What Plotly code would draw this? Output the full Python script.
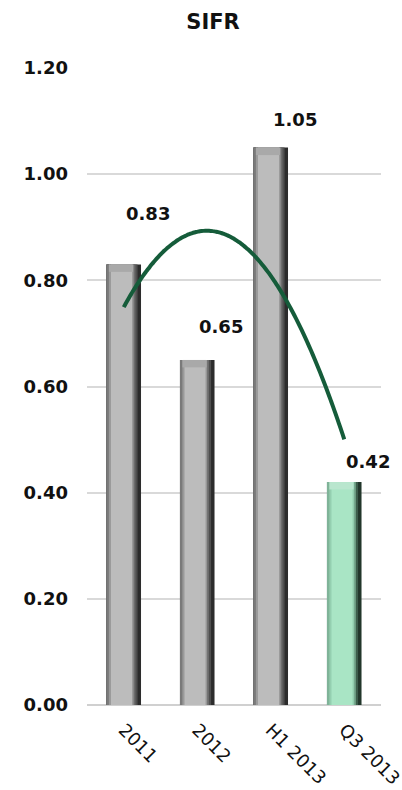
import numpy as np
import plotly.graph_objects as go

# SIFR by period
categories = ["2011", "2012", "H1 2013", "Q3 2013"]
sifr = [0.83, 0.65, 1.05, 0.42]
y_ticks = [0.0, 0.2, 0.4, 0.6, 0.8, 1.0, 1.2]
y_tick_labels = ["0.00", "0.20", "0.40", "0.60", "0.80", "1.00", "1.20"]

# styling
BAR_W = 0.47
label_dx = 24
label_dy = [51, 33, 28, 21]
gray_strips = [  # (start, end, colour) across the bar width, painted in order
    (0.00, 1.00, "#2c2c2c"),
    (0.00, 0.90, "#4f4f4f"),
    (0.00, 0.84, "#6c6c6c"),
    (0.00, 0.80, "#7a7a7a"),
    (0.07, 0.78, "#9a9a9a"),
    (0.13, 0.74, "#bcbcbc"),
]
green_strips = [
    (0.00, 1.00, "#22362b"),
    (0.00, 0.90, "#3d5e4c"),
    (0.00, 0.84, "#6a9a80"),
    (0.00, 0.80, "#7fb398"),
    (0.07, 0.78, "#94cfb0"),
    (0.13, 0.74, "#a9e5c5"),
]
highlight = [False, False, False, True]

x = np.arange(len(categories))
fig = go.Figure()

for (s, e, gc), (_, _, grc) in zip(gray_strips, green_strips):
    fig.add_trace(go.Bar(
        x=x, y=sifr,
        width=(e - s) * BAR_W,
        offset=-BAR_W / 2 + s * BAR_W,
        marker=dict(color=[grc if h else gc for h in highlight], line=dict(width=0)),
        hoverinfo="skip", showlegend=False,
    ))

# bevelled top cap
cap = 0.014
fig.add_trace(go.Bar(
    x=x, y=[cap] * len(sifr), base=[v - cap for v in sifr],
    width=0.70 * BAR_W, offset=-BAR_W / 2 + 0.07 * BAR_W,
    marker=dict(color=["#b9e6ce" if h else "#a9a9a9" for h in highlight], line=dict(width=0)),
    hoverinfo="skip", showlegend=False,
))

# 2nd-order polynomial trend
coef = np.polyfit(x, sifr, 2)
xt = np.linspace(x[0], x[-1], 120)
fig.add_trace(go.Scatter(
    x=xt, y=np.polyval(coef, xt), mode="lines",
    line=dict(color="#155c3a", width=4, shape="spline"),
    hoverinfo="skip", showlegend=False,
))

for i, v in enumerate(sifr):
    fig.add_annotation(
        x=x[i], y=v, text=f"{v:.2f}", showarrow=False,
        xshift=label_dx, yshift=label_dy[i],
        font=dict(family="DejaVu Sans", size=18, color="#111111", weight="bold"),
    )

fig.update_layout(
    width=402, height=790,
    margin=dict(l=87, r=21, t=68, b=85, autoexpand=False),
    barmode="overlay",
    plot_bgcolor="white", paper_bgcolor="white",
    title=dict(text="<b>SIFR</b>", x=0.53, xanchor="center", y=0.972, yanchor="middle",
               font=dict(family="DejaVu Sans", size=21, color="#111111")),
    xaxis=dict(
        range=[-0.5, len(categories) - 0.5],
        tickmode="array", tickvals=list(x), ticktext=categories,
        tickangle=45, showgrid=False, zeroline=False, showline=False,
        automargin=False, ticklabelstandoff=10, ticklabeloverflow="allow",
        tickfont=dict(family="DejaVu Sans", size=18, color="#111111"),
    ),
    yaxis=dict(
        range=[0, 1.2],
        tickmode="array", tickvals=y_ticks, ticktext=y_tick_labels,
        showgrid=True, gridcolor="#d9d9d9", gridwidth=2,
        zeroline=True, zerolinecolor="#d0d0d0", zerolinewidth=2,
        automargin=False, ticklabelstandoff=18,
        tickfont=dict(family="DejaVu Sans", size=18, color="#111111", weight="bold"),
    ),
)

fig.write_html("out.html")
